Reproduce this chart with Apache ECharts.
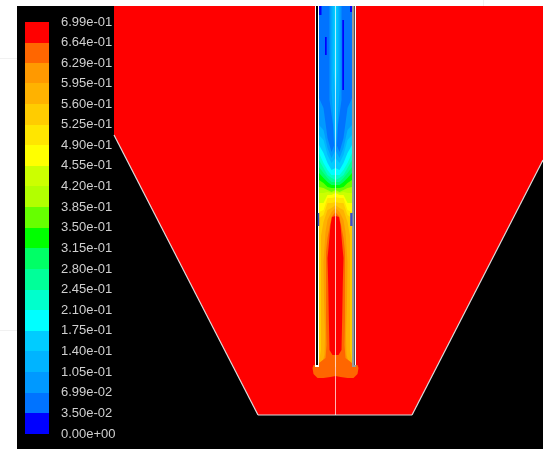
<!DOCTYPE html>
<html><head><meta charset="utf-8">
<style>html,body{margin:0;padding:0;background:#fff;overflow:hidden}#c{width:543px;height:449px}</style>
<script src="https://cdn.jsdelivr.net/npm/echarts@6/dist/echarts.min.js"></script>
</head><body><div id="c"></div>
<script>
// Colour scale
const tickLabels=['0.00e+00','3.50e-02','6.99e-02','1.05e-01','1.40e-01','1.75e-01','2.10e-01','2.45e-01','2.80e-01','3.15e-01','3.50e-01','3.85e-01','4.20e-01','4.55e-01','4.90e-01','5.25e-01','5.60e-01','5.95e-01','6.29e-01','6.64e-01','6.99e-01'];
const levelValues=[0,0.035,0.0699,0.105,0.14,0.175,0.21,0.245,0.28,0.315,0.35,0.385,0.42,0.455,0.49,0.525,0.56,0.595,0.629,0.664,0.699];
const bandColors=['#0000ff','#0073ff','#0099ff','#00b4ff','#00ccff','#00ffff','#00ffcc','#00ff99','#00ff66','#00ff00','#66ff00','#b2ff00','#ccff00','#ffff00','#ffe600','#ffcc00','#ffb200','#ff9900','#ff6600','#ff0000'];

// Domain outline, [distance from axis, depth]
const domainOutline=[[-221.5,6],[-221.5,135],[-77.5,415],[76.5,415],[207.5,160],[207.5,6]];
const channelHalfWidth=16.5, channelTop=6, channelEnd=367;

// Contour fronts: depth at which each band starts, at radii frontRadii
const frontRadii=[0,4,8,12,16.5];
const frontBands=[2,3,4,5,6,7,8,9,10,11,12,13,14,15];
const frontDepths=[[142,152,138,108,98],[150,158,148,130,125],[158,163,155,140,135],[168,170,163,153,145],[175,175,170,163,153],[180,178,175,168,160],[182,182,178,173,167],[185,185,182,178,173],[188,188,187,183,180],[190,192,190,188,187],[192,193,192,193,193],[193,195,195,203,203],[197,198,198,210,212],[202,203,203,215,218]];

// Cold core (mirrored about the axis)
const stripe2=[[0,6],[6,6],[6,100],[2.5,125],[1.5,145],[0,145]];
const stripe3=[[0,6],[4,6],[4,90],[1.5,130],[0,150]];
const stripe4=[[0,6],[2,6],[2,70],[0,100]];
// Cold streaks (one-sided)
const streakA=[[-16.5,6],[-14,6],[-14,15],[-16.5,15]];
const streakB=[[-10.5,37],[-8.8,37],[-8.8,55],[-10.5,55]];
const streakC=[[6.8,20],[8.5,20],[8.5,90],[6.8,90]];
const streakD=[[14.5,6],[16.5,6],[16.5,12],[14.5,12]];
const patchLeft=[[-17.8,213],[-16.3,213],[-16.3,226],[-17.8,226]];
const patchRight=[[14.7,213],[17,213],[17,226],[14.7,226]];

// Hot core and the blob at the tube exit (mirrored)
const band16=[[0,205],[4,208],[8,210],[12,222],[14.5,236],[14.5,350],[16.5,362],[16.5,367],[0,367]];
const band17=[[0,208],[4,212],[8,220],[10,232],[12,262],[11.5,300],[10.5,335],[11,355],[13,362],[0,362]];
const band18=[[0,212],[4,217],[8,238],[9.5,252],[9.5,320],[9,345],[10,358],[16.5,363],[18,365],[22,365],[23,368],[22,374],[18,378],[12,378],[5,377],[0,376]];
const band19=[[0,216],[3.5,217],[5,225],[7,248],[8,258],[7.3,283],[6.7,317],[6,350],[3,355],[0,355]];

// Tube walls: [inner edge, outer edge, wallColors index]
const wallBands=[[-20.5,-19.5,0],[-19.5,-17.5,1],[-17.5,-16.5,0],[16.5,18.5,2],[18.5,19.5,3],[19.5,20.5,0]];
const wallCaps=[[-20.5,-16.5,0],[16.5,20.5,2]];
const wallColors=['#ffffff','#000000','#9a9a9a','#555555'];

const slantEdges=[[[-221.5,135],[-77.5,415]],[[-77.5,415],[76.5,415]],[[76.5,415],[207.5,160]]];
const centreLine=[[0,6],[0,415]];

// Painter's-order polygons
const polys=[];
const add=(pts,color,mirror)=>{polys.push({pts,color});if(mirror)polys.push({pts:pts.map(p=>[-p[0],p[1]]),color});};
add(domainOutline,bandColors[19]);
add([[-channelHalfWidth,channelTop],[channelHalfWidth,channelTop],[channelHalfWidth,channelEnd],[-channelHalfWidth,channelEnd]],bandColors[1]);
[streakA,streakB,streakC,streakD].forEach(s=>add(s,bandColors[0]));
frontBands.forEach((b,i)=>{
  const f=frontDepths[i].map((d,j)=>[frontRadii[j],d]);
  add(f.concat([[channelHalfWidth,channelEnd],[0,channelEnd]]),bandColors[b],true);
});
add(stripe2,bandColors[2],true);add(stripe3,bandColors[3],true);add(stripe4,bandColors[4],true);
add(band16,bandColors[16],true);add(band17,bandColors[17],true);add(band18,bandColors[18],true);add(band19,bandColors[19],true);
wallBands.forEach(w=>add([[w[0],channelTop],[w[1],channelTop],[w[1],channelEnd],[w[0],channelEnd]],wallColors[w[2]]));
wallCaps.forEach(w=>add([[w[0],365],[w[1],365],[w[1],channelEnd],[w[0],channelEnd]],wallColors[w[2]]));
[patchLeft,patchRight].forEach(s=>add(s,'#3a50c8'));

const chart=echarts.init(document.getElementById('c'),null,{renderer:'canvas'});
const cells=bandColors.map((c,i)=>[levelValues[i],levelValues[i+1],i]);
chart.setOption({
  animation:false,
  backgroundColor:'#fff',
  graphic:[
    {type:'rect',z:-1,shape:{x:0,y:58,width:17,height:1},style:{fill:'#f1f1f1'},silent:true},
    {type:'rect',z:-1,shape:{x:0,y:330,width:17,height:1},style:{fill:'#f1f1f1'},silent:true},
    {type:'rect',z:-1,shape:{x:483,y:0,width:1,height:6},style:{fill:'#f1f1f1'},silent:true}
  ],
  grid:[
    {left:17,top:6,width:526,height:443,show:true,backgroundColor:'#000',borderWidth:0},
    {left:25,top:22,width:24,height:412,show:false}
  ],
  xAxis:[
    {gridIndex:0,type:'value',min:-318.5,max:207.5,show:false},
    {gridIndex:1,type:'value',min:0,max:1,show:false}
  ],
  yAxis:[
    {gridIndex:0,type:'value',min:6,max:449,inverse:true,show:false},
    {gridIndex:1,type:'value',min:0,max:0.699,position:'right',
      axisLine:{show:false},axisTick:{show:false},splitLine:{show:false},
      axisLabel:{show:true,customValues:levelValues,color:'#cfcfcf',fontFamily:'Liberation Sans',fontSize:13,margin:12,
        formatter:v=>tickLabels[levelValues.indexOf(v)]}}
  ],
  series:[
    {type:'custom',xAxisIndex:0,yAxisIndex:0,clip:true,silent:true,z:2,data:polys.map((p,i)=>[i]),
      encode:{x:[],y:[]},
      renderItem:(params,api)=>{
        const p=polys[api.value(0)];
        return {type:'polygon',shape:{points:p.pts.map(q=>api.coord(q))},style:{fill:p.color}};
      }},
    {type:'custom',xAxisIndex:0,yAxisIndex:0,clip:true,silent:true,z:3,data:slantEdges.map((e,i)=>[i]),
      encode:{x:[],y:[]},
      renderItem:(params,api)=>{
        const e=slantEdges[api.value(0)];
        const a=api.coord(e[0]),b=api.coord(e[1]);
        return {type:'line',shape:{x1:a[0],y1:a[1],x2:b[0],y2:b[1]},style:{stroke:'#dcdcdc',lineWidth:1.2}};
      }},
    {type:'line',xAxisIndex:0,yAxisIndex:0,z:4,silent:true,symbol:'none',data:centreLine,
      lineStyle:{color:'#ffffff',opacity:0.7,width:1}},
    {type:'custom',xAxisIndex:1,yAxisIndex:1,silent:true,z:2,data:cells,
      encode:{x:[],y:[0,1]},
      renderItem:(params,api)=>{
        const lo=api.coord([0,api.value(0)]),hi=api.coord([1,api.value(1)]);
        const top=Math.round(hi[1]),bottom=Math.round(lo[1]);
        return {type:'rect',shape:{x:lo[0],y:top,width:hi[0]-lo[0],height:bottom-top},style:{fill:bandColors[api.value(2)]}};
      }}
  ]
});
</script></body></html>
